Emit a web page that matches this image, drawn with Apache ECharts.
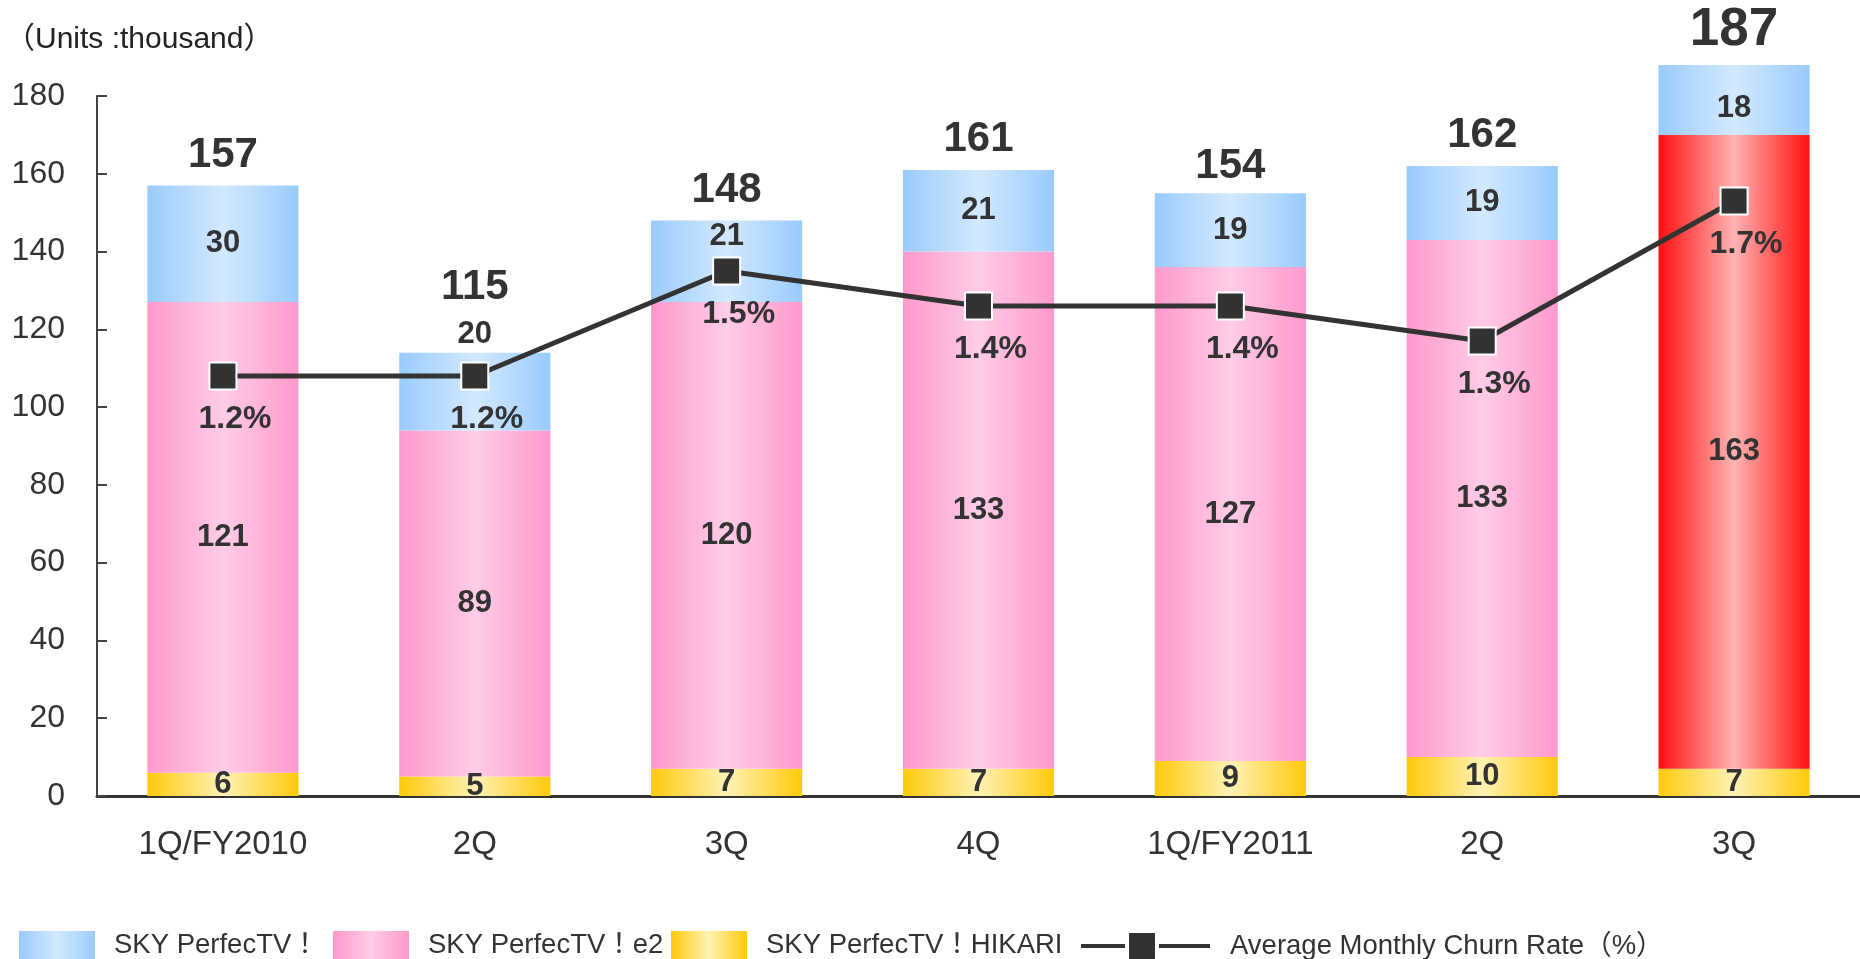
<!DOCTYPE html>
<html>
<head>
<meta charset="utf-8">
<script src="https://cdn.jsdelivr.net/npm/echarts@6/dist/echarts.min.js"></script>
<style>
  html, body { margin: 0; padding: 0; background: #fff; }
  #chart { width: 1860px; height: 959px; }
</style>
</head>
<body>
<div id="chart"></div>
<script>
// 四半期ごとの新規加入件数（千件）
const categories = ['1Q/FY2010', '2Q', '3Q', '4Q', '1Q/FY2011', '2Q', '3Q']
const skyValues = [30, 20, 21, 21, 19, 19, 18]
const e2Values = [121, 89, 120, 133, 127, 133, 163]
const hikariValues = [6, 5, 7, 7, 9, 10, 7]
const totals = [157, 115, 148, 161, 154, 162, 187]
const churnRates = [1.2, 1.2, 1.5, 1.4, 1.4, 1.3, 1.7]
const yTicks = [0, 20, 40, 60, 80, 100, 120, 140, 160, 180]

const FONT = '"Liberation Sans", Arial, "Noto Sans CJK JP", sans-serif'
const TEXT = '#333333'

// 横方向グラデーション（端が濃く、中央が淡い）
const hGrad = (edge, mid) => new echarts.graphic.LinearGradient(0, 0, 1, 0, [
  { offset: 0, color: edge },
  { offset: 0.5, color: mid },
  { offset: 1, color: edge },
])

const segLabel = {
  show: true,
  position: 'inside',
  color: TEXT,
  fontFamily: FONT,
  fontWeight: 'bold',
  fontSize: 31,
}

// 凡例は項目ごとに位置を合わせる
const legendText = { fontFamily: FONT, fontSize: 27.5, color: TEXT, padding: [0, 0, 0, 14] }
const legendItem = (name, left, width, icon) => ({
  data: [{ name, icon: icon || 'rect' }],
  left,
  top: 931,
  padding: 0,
  itemWidth: width,
  itemHeight: 28,
  textStyle: legendText,
})

const chart = echarts.init(document.getElementById('chart'))

const option = {
  animation: false,
  textStyle: { fontFamily: FONT, color: TEXT },
  title: {
    text: '（Units :thousand）',
    left: 0,
    top: 20,
    textStyle: { fontFamily: FONT, fontSize: 30, fontWeight: 'normal', color: '#222' },
  },
  grid: { left: 97, right: 0, top: 96, bottom: 163 },
  legend: [
    legendItem('SKY PerfecTV！', 19, 76),
    legendItem('SKY PerfecTV！e2', 333, 76),
    legendItem('SKY PerfecTV！HIKARI', 671, 76),
    legendItem('Average Monthly Churn Rate（%）', 1079, 131,
      'path://M0,11h46v6H0z M48,0h28v28H48z M78,11h53v6H78z'),
  ],
  xAxis: {
    type: 'category',
    data: categories,
    axisTick: { show: false },
    axisLine: { lineStyle: { color: '#333', width: 3 } },
    axisLabel: { color: TEXT, fontSize: 33, fontFamily: FONT, margin: 32 },
  },
  yAxis: [
    {
      type: 'value',
      min: yTicks[0],
      max: yTicks[yTicks.length - 1],
      interval: 20,
      splitLine: { show: false },
      axisLine: { show: true, lineStyle: { color: '#444', width: 2 } },
      axisTick: { show: true, inside: true, length: 10, lineStyle: { color: '#444', width: 2 } },
      axisLabel: { color: TEXT, fontSize: 32, fontFamily: FONT, margin: 32 },
    },
    { type: 'value', min: 0, max: 2, show: false },
  ],
  series: [
    {
      name: 'SKY PerfecTV！HIKARI',
      type: 'bar',
      stack: 'units',
      barWidth: '60%',
      clip: false,
      itemStyle: { color: hGrad('#FFCA0A', '#FFF2B5') },
      label: segLabel,
      data: hikariValues,
    },
    {
      name: 'SKY PerfecTV！e2',
      type: 'bar',
      stack: 'units',
      clip: false,
      itemStyle: { color: hGrad('#FF99CC', '#FFCCE6') },
      label: segLabel,
      data: e2Values.map((v, i) => i === e2Values.length - 1
        ? { value: v, itemStyle: { color: hGrad('#FF0F0F', '#FFB3B3') } }
        : v),
    },
    {
      name: 'SKY PerfecTV！',
      type: 'bar',
      stack: 'units',
      clip: false,
      itemStyle: { color: hGrad('#99CBFD', '#D3E9FF') },
      label: segLabel,
      data: skyValues.map((v, i) => {
        if (i === 1) return { value: v, label: { position: 'top', distance: 3 } }
        if (i === 2) return { value: v, label: { position: 'insideTop', distance: 1 } }
        if (i === 6) return { value: v, label: { offset: [0, 9] } }
        return v
      }),
    },
    {
      // 合計値ラベル
      name: 'total',
      type: 'scatter',
      clip: false,
      symbolSize: 1,
      itemStyle: { color: 'rgba(0,0,0,0)', opacity: 1 },
      silent: true,
      label: {
        show: true,
        position: 'top',
        distance: 9,
        color: TEXT,
        fontFamily: FONT,
        fontWeight: 'bold',
        fontSize: 42,
      },
      data: totals.map((v, i) => {
        if (i === 1) return { value: v, label: { distance: 40 } }
        if (i === 6) return { value: v, label: { distance: 11, fontSize: 53 } }
        return v
      }),
      z: 5,
    },
    {
      name: 'Average Monthly Churn Rate（%）',
      type: 'line',
      yAxisIndex: 1,
      symbol: 'rect',
      symbolSize: 27,
      lineStyle: { color: '#333', width: 5 },
      itemStyle: { color: '#333', borderColor: '#fff', borderWidth: 2 },
      label: {
        show: true,
        position: 'bottom',
        distance: 13,
        offset: [12, 0],
        formatter: (p) => p.value.toFixed(1) + '%',
        color: TEXT,
        fontFamily: FONT,
        fontWeight: 'bold',
        fontSize: 32,
      },
      data: churnRates,
      z: 10,
    },
  ],
}

chart.setOption(option)
</script>
</body>
</html>
